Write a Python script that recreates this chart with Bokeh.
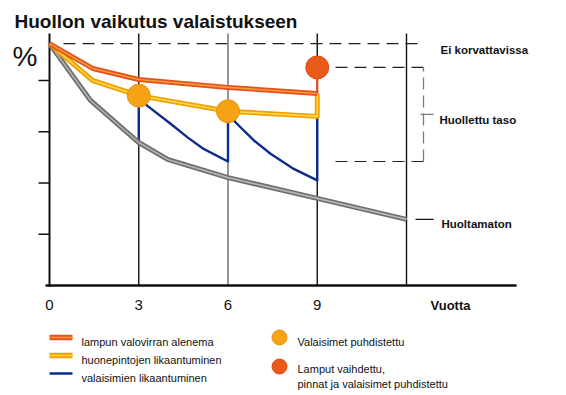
from bokeh.plotting import figure
from bokeh.models import Range1d, Label
from bokeh.embed import file_html
from bokeh.resources import INLINE

# ---------------- data ----------------
x_tick_values = [0, 3, 6, 9]
x_tick_labels = ["0", "3", "6", "9"]
service_years = [3, 6, 9, 12]
service_line_colors = ["#111111", "#6a6a6a", "#111111", "#111111"]
y_tick_values = [20, 40, 60, 80]

lamp_x = [0, 1.45, 3, 6, 9]                      # lampun valovirran alenema
lamp_y = [94.4, 84.7, 80.4, 77.3, 74.9]
surf_x = [0, 1.45, 3, 6, 9, 9]                   # huonepintojen likaantuminen
surf_y = [94.4, 80.0, 74.1, 68.0, 66.0, 74.9]
lum_x = [0, 1.38, 3, 3, 3.28, 4.07, 4.63, 5.18, 6, 6, 6.25, 6.87, 7.43, 8.21, 9, 9]   # valaisimien likaantuminen
lum_y = [94.4, 72.2, 55.8, 74.1, 70.2, 63.1, 57.9, 53.3, 48.4, 68.0, 63.7, 56.6, 51.4, 45.5, 41.0, 66.0]
unmaint_x = [0, 1.38, 3, 3.97, 6, 9, 12]         # Huoltamaton
unmaint_y = [94.4, 72.2, 55.8, 49.2, 42.1, 34.0, 25.8]

clean_x = [3, 6]                                 # Valaisimet puhdistettu
clean_y = [74.1, 68.0]
relamp_x = [9]                                   # Lamput vaihdettu
relamp_y = [85.1]
relamp_link_y = [74.9, 85.1]

level_initial = 94.4
level_maint_hi = 85.1
level_maint_lo = 48.4
y_axis_top = 98.3
x_axis_end = 15.7

# ---------------- layout ----------------
W, H = 566, 395
PXY = 29.75      # pixels per year
PYU = 2.5625     # pixels per percent unit
X0, Y0 = 49, 285

def X(px):
    return (px - X0) / PXY

def Y(py):
    return (Y0 - py) / PYU

FONT = "Liberation Sans"

p = figure(width=W, height=H,
           x_range=Range1d(-X0 / PXY, (W - X0) / PXY),
           y_range=Range1d(-(H - Y0) / PYU, Y0 / PYU),
           output_backend="svg", toolbar_location=None,
           x_axis_type=None, y_axis_type=None,
           min_border=0, outline_line_color=None)
p.background_fill_color = "white"
p.border_fill_color = "white"

# reference dashed levels
p.segment(x0=[X(63)], y0=[level_initial], x1=[X(423)], y1=[level_initial],
          line_color="#222222", line_width=1.2, line_dash="12 7")
p.segment(x0=[X(335), X(335)], y0=[level_maint_hi, level_maint_lo],
          x1=[X(423), X(423)], y1=[level_maint_hi, level_maint_lo],
          line_color="#222222", line_width=1.2, line_dash="12 7")
p.segment(x0=[X(423)], y0=[level_maint_lo], x1=[X(423)], y1=[level_maint_hi],
          line_color="#7a7a7a", line_width=1.3, line_dash="12 6")
mid = (level_maint_hi + level_maint_lo) / 2
p.segment(x0=[X(420)], y0=[mid], x1=[X(433)], y1=[mid], line_color="#7a7a7a", line_width=1.3)
p.segment(x0=[X(415)], y0=[unmaint_y[-1]], x1=[X(433)], y1=[unmaint_y[-1]],
          line_color="#111111", line_width=1.2)

# service year vertical lines
p.segment(x0=service_years, y0=[0] * 4, x1=service_years, y1=[y_axis_top] * 4,
          line_color=service_line_colors, line_width=1.4)

# axes
p.segment(x0=[X(45)], y0=[0], x1=[x_axis_end], y1=[0], line_color="#111111", line_width=2.5)
p.segment(x0=[0], y0=[-0.5], x1=[0], y1=[y_axis_top], line_color="#111111", line_width=2)
p.segment(x0=[X(38)] * 4, y0=y_tick_values, x1=[0] * 4, y1=y_tick_values,
          line_color="#111111", line_width=1.4)

# series
p.line(lum_x, lum_y, line_color="#0c2c8e", line_width=2.4, line_join="round")
p.line(unmaint_x, unmaint_y, line_color="#6e6e6e", line_width=5, line_join="round")
p.line(unmaint_x, unmaint_y, line_color="#b4b4b4", line_width=1.6, line_join="round")
p.line(surf_x, surf_y, line_color="#f0a000", line_width=5, line_join="round")
p.line(surf_x, surf_y, line_color="#ffd84a", line_width=1.6, line_join="round")
p.line(lamp_x, lamp_y, line_color="#e4521c", line_width=5, line_join="round")
p.line(lamp_x, lamp_y, line_color="#f59a3a", line_width=1.6, line_join="round")
p.line(relamp_x * 2, relamp_link_y, line_color="#e4521c", line_width=2.2)

p.scatter(clean_x, clean_y, size=23, fill_color="#f5a314", line_color="#e8930c", line_width=1)
p.scatter(relamp_x, relamp_y, size=23, fill_color="#ea5a1b", line_color="#dd4f14", line_width=1)

# texts
def label(txt, px, py, size, bold=False, align="left"):
    p.add_layout(Label(x=X(px), y=Y(py), text=txt, text_font=FONT,
                       text_font_size=f"{size}px",
                       text_font_style="bold" if bold else "normal",
                       text_align=align, text_baseline="alphabetic",
                       text_color="#111111"))

label("Huollon vaikutus valaistukseen", 14, 21, 19, bold=True)
label("%", 12, 56, 28)
label("Ei korvattavissa", 440, 49.5, 11.5, bold=True)
label("Huollettu taso", 439, 119, 11.5, bold=True)
label("Huoltamaton", 441, 223, 11.5, bold=True)
label("Vuotta", 430, 305, 13, bold=True)

p.text(x=x_tick_values, y=[Y(304)] * len(x_tick_values), text=x_tick_labels,
       text_font={"value": FONT}, text_font_size="15px", text_align="center",
       text_baseline="alphabetic", text_color="#111111")

# legend (manual)
leg_rows = [337, 355, 373]
p.segment(x0=[X(49)], y0=[Y(leg_rows[0])], x1=[X(72)], y1=[Y(leg_rows[0])], line_color="#e4521c", line_width=5.5)
p.segment(x0=[X(49)], y0=[Y(leg_rows[0])], x1=[X(72)], y1=[Y(leg_rows[0])], line_color="#f59a3a", line_width=1.6)
p.segment(x0=[X(49)], y0=[Y(leg_rows[1])], x1=[X(72)], y1=[Y(leg_rows[1])], line_color="#f0a000", line_width=5.5)
p.segment(x0=[X(49)], y0=[Y(leg_rows[1])], x1=[X(72)], y1=[Y(leg_rows[1])], line_color="#ffd84a", line_width=1.6)
p.segment(x0=[X(49)], y0=[Y(leg_rows[2])], x1=[X(72)], y1=[Y(leg_rows[2])], line_color="#0c2c8e", line_width=2.4)
label("lampun valovirran alenema", 81, 341, 11)
label("huonepintojen likaantuminen", 81, 359, 11)
label("valaisimien likaantuminen", 81, 377, 11)

p.scatter([X(279)], [Y(337)], size=15, fill_color="#f5a314", line_color="#e8930c")
p.scatter([X(279)], [Y(366)], size=15, fill_color="#ea5a1b", line_color="#dd4f14")
label("Valaisimet puhdistettu", 297, 341, 11)
label("Lamput vaihdettu,", 297, 368, 11)
label("pinnat ja valaisimet puhdistettu", 297, 383, 11)

open("out.html", "w").write(file_html(p, INLINE))
